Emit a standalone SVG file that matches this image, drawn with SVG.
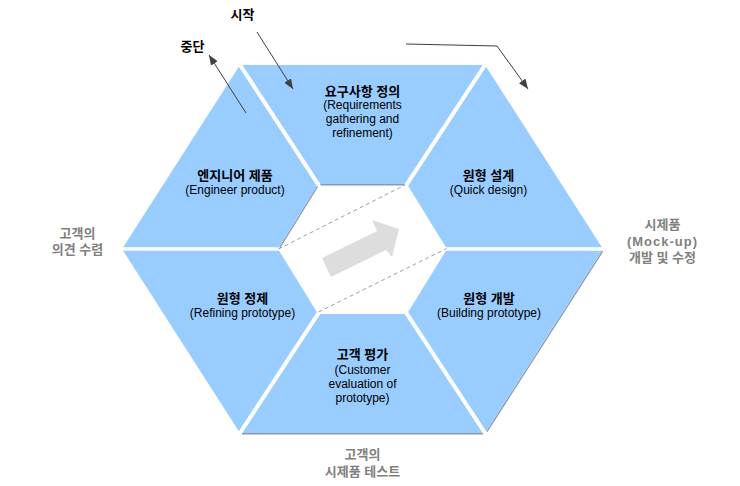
<svg xmlns="http://www.w3.org/2000/svg" width="740" height="486" viewBox="0 0 740 486">
<style>
  .seg { fill: #99ccff; }
  .shade { fill: none; stroke: #8a9ab0; stroke-width: 1.4; }
  .t { font-family: "Liberation Sans", "Noto Sans CJK KR", sans-serif; text-anchor: middle; }
  .ko { font-size: 13px; font-weight: bold; fill: #000; }
  .en { font-size: 12px; fill: #000; }
  .side { font-size: 13px; font-weight: bold; fill: #808080; }
  .ann { font-size: 13px; font-weight: bold; fill: #000; }
  .conn { fill: none; stroke: #404040; stroke-width: 1; }
  .dash { fill: none; stroke: #a0a0a0; stroke-width: 1; stroke-dasharray: 4 3; }
</style>
<defs>
  <marker id="ah" viewBox="0 0 10 8" refX="10" refY="4" markerWidth="10" markerHeight="8" orient="auto" markerUnits="userSpaceOnUse">
    <path d="M0,0 L10,4 L0,8 z" fill="#404040"/>
  </marker>
</defs>
<rect width="740" height="486" fill="#ffffff"/>

<g id="shading">
  <line class="shade" x1="242" y1="433.8" x2="483" y2="433.8"/>
  <line class="shade" x1="486.9" y1="431.6" x2="602.6" y2="251.2"/>
  <line class="shade" x1="279.8" y1="247.7" x2="317.5" y2="186.3"/>
  <line class="shade" x1="320.4" y1="184.8" x2="404.6" y2="184.8"/>
</g>

<g id="node-requirements">
  <polygon class="seg" points="242.4,65 482.6,65 404.6,184 320.4,184"/>
  <text class="t ko" x="362.5" y="96">요구사항 정의</text>
  <text class="t en" x="362.5" y="109">(Requirements</text>
  <text class="t en" x="362.5" y="123">gathering and</text>
  <text class="t en" x="362.5" y="137">refinement)</text>
</g>

<g id="node-quick-design">
  <polygon class="seg" points="486.18,66.85 601.88,247.25 445.92,247.25 408.16,185.88"/>
  <text class="t ko" x="488.5" y="180">원형 설계</text>
  <text class="t en" x="488.5" y="194">(Quick design)</text>
</g>

<g id="node-building">
  <polygon class="seg" points="601.88,250.75 486.18,431.15 408.16,312.12 445.92,250.75"/>
  <text class="t ko" x="489" y="303">원형 개발</text>
  <text class="t en" x="489" y="317">(Building prototype)</text>
</g>

<g id="node-customer-eval">
  <polygon class="seg" points="320.4,314 404.6,314 482.6,433 242.4,433"/>
  <text class="t ko" x="362.5" y="359">고객 평가</text>
  <text class="t en" x="362.5" y="374">(Customer</text>
  <text class="t en" x="362.5" y="388">evaluation of</text>
  <text class="t en" x="362.5" y="402">prototype)</text>
</g>

<g id="node-refining">
  <polygon class="seg" points="123.12,250.75 279.08,250.75 316.84,312.12 238.82,431.15"/>
  <text class="t ko" x="242.5" y="303">원형 정제</text>
  <text class="t en" x="242.5" y="317">(Refining prototype)</text>
</g>

<g id="node-engineer">
  <polygon class="seg" points="123.12,247.25 238.82,66.85 316.84,185.88 279.08,247.25"/>
  <text class="t ko" x="235" y="180">엔지니어 제품</text>
  <text class="t en" x="235" y="194">(Engineer product)</text>
</g>

<g id="center">
  <line class="dash" x1="278.5" y1="249" x2="405" y2="185"/>
  <line class="dash" x1="318.5" y1="312" x2="446.5" y2="248.5"/>
  <polygon points="322,258 377,231 372,220 399,229 392,257 386,250 331,277" fill="#dddddd"/>
</g>

<g id="labels">
  <text class="t ann" x="242.5" y="19">시작</text>
  <text class="t ann" x="192.5" y="51">중단</text>
  <text class="t side" x="662.5" y="229">시제품</text>
  <text class="t side" x="662.5" y="246" letter-spacing="1">(Mock-up)</text>
  <text class="t side" x="662.5" y="262">개발 및 수정</text>
  <text class="t side" x="77.5" y="238">고객의</text>
  <text class="t side" x="77.5" y="254">의견 수렴</text>
  <text class="t side" x="362.5" y="459">고객의</text>
  <text class="t side" x="362.5" y="476">시제품 테스트</text>
</g>

<g id="connectors">
  <line class="conn" x1="257" y1="32" x2="293" y2="89" marker-end="url(#ah)"/>
  <line class="conn" x1="246" y1="113" x2="209" y2="55" marker-end="url(#ah)"/>
  <polyline class="conn" points="406,44 497,46 528,89" marker-end="url(#ah)"/>
</g>
</svg>
